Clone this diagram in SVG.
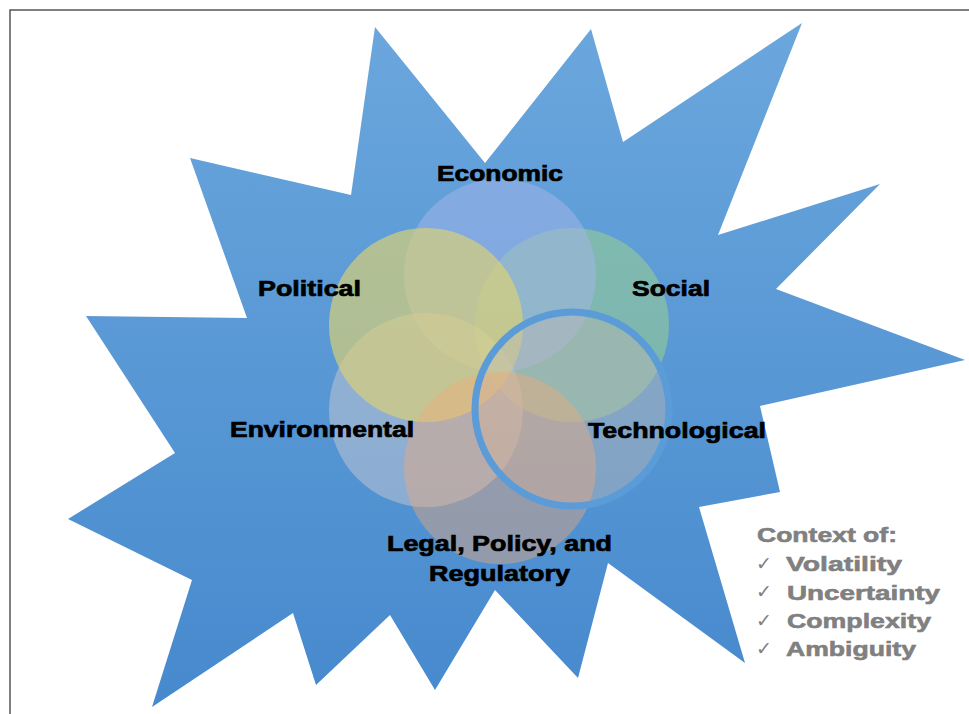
<svg xmlns="http://www.w3.org/2000/svg" width="969" height="714" viewBox="0 0 969 714">
  <defs>
    <linearGradient id="starGrad" x1="0" y1="20" x2="0" y2="710" gradientUnits="userSpaceOnUse">
      <stop offset="0" stop-color="#6ba7dd"/>
      <stop offset="1" stop-color="#4689cd"/>
    </linearGradient>
    <style>
      .lbl { font-family: "Liberation Sans", Arial, sans-serif; font-weight: bold; font-size: 22px; fill: #000; stroke: #000; stroke-width: 0.7px; }
      .ctx { font-family: "Liberation Sans", Arial, sans-serif; font-weight: bold; font-size: 21px; fill: #808080; stroke: #808080; stroke-width: 0.6px; }
      .chk { font-family: "DejaVu Sans", sans-serif; font-size: 19px; fill: #808080; }
    </style>
  </defs>
  <rect x="0" y="0" width="969" height="714" fill="#ffffff"/>
  <rect x="10" y="10" width="990" height="740" fill="none" stroke="#555555" stroke-width="1.5"/>

  <g id="star">
    <polygon fill="url(#starGrad)" points="375,27 485,163 591,29 623,142 802,23 718,235 880,184 776,289 965,360 760,406 780,492 699,507 745,663 608,563 578,678 495,590 435,690 390,615 316,685 293,613 152,707 192,580 68,519 175,453 86,316 247,318 190,158 351,195"/>
  </g>

  <g id="social">
    <circle cx="572" cy="325" r="97" fill="#95cc95" fill-opacity="0.6"/>
  </g>
  <g id="economic">
    <circle cx="500" cy="275" r="96" fill="#a6b6ea" fill-opacity="0.5"/>
  </g>
  <g id="environmental">
    <circle cx="426" cy="410" r="97" fill="#c8c8d2" fill-opacity="0.5"/>
  </g>
  <g id="political">
    <circle cx="426" cy="325" r="97" fill="#dfd372" fill-opacity="0.65"/>
  </g>
  <g id="technological">
    <circle cx="572" cy="410" r="94" fill="#bdb8b4" fill-opacity="0.45"/>
  </g>
  <g id="legal">
    <circle cx="500" cy="468" r="96" fill="#f0aa78" fill-opacity="0.42"/>
  </g>
  <g id="ring">
    <circle cx="572" cy="409" r="97" fill="none" stroke="#5b9cd8" stroke-width="7"/>
  </g>

  <g id="labels">
    <text class="lbl" x="437" y="181" textLength="126" lengthAdjust="spacingAndGlyphs">Economic</text>
    <text class="lbl" x="258" y="296" textLength="103" lengthAdjust="spacingAndGlyphs">Political</text>
    <text class="lbl" x="632" y="296" textLength="78" lengthAdjust="spacingAndGlyphs">Social</text>
    <text class="lbl" x="230" y="437" textLength="184" lengthAdjust="spacingAndGlyphs">Environmental</text>
    <text class="lbl" x="588" y="438" textLength="178" lengthAdjust="spacingAndGlyphs">Technological</text>
    <text class="lbl" x="387" y="551" textLength="225" lengthAdjust="spacingAndGlyphs">Legal, Policy, and</text>
    <text class="lbl" x="429" y="581" textLength="141" lengthAdjust="spacingAndGlyphs">Regulatory</text>
  </g>

  <g id="context">
    <text class="ctx" x="757" y="542" textLength="140" lengthAdjust="spacingAndGlyphs">Context of:</text>
    <text class="chk" x="756" y="570">✓</text>
    <text class="ctx" x="786" y="571" textLength="116" lengthAdjust="spacingAndGlyphs">Volatility</text>
    <text class="chk" x="756" y="598">✓</text>
    <text class="ctx" x="787" y="600" textLength="153" lengthAdjust="spacingAndGlyphs">Uncertainty</text>
    <text class="chk" x="756" y="627">✓</text>
    <text class="ctx" x="787" y="628" textLength="144" lengthAdjust="spacingAndGlyphs">Complexity</text>
    <text class="chk" x="756" y="655">✓</text>
    <text class="ctx" x="786" y="656" textLength="130" lengthAdjust="spacingAndGlyphs">Ambiguity</text>
  </g>
</svg>
